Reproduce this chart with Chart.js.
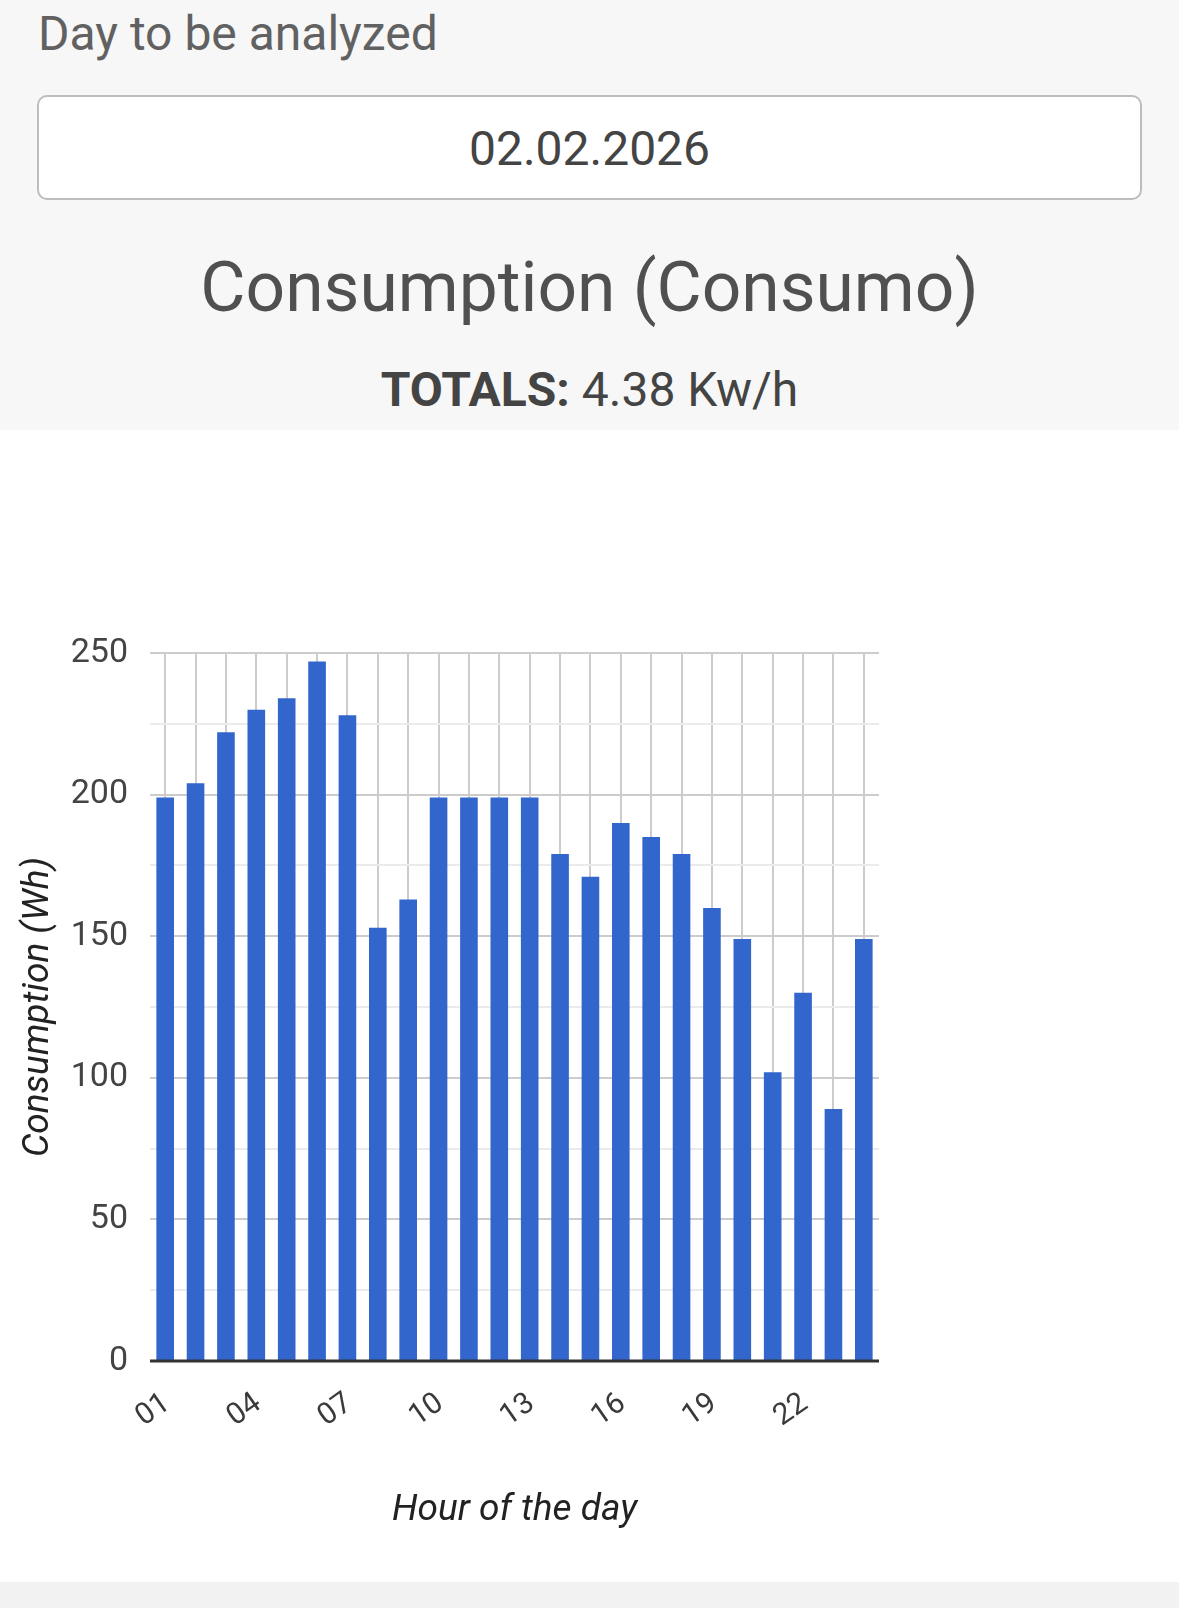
<!DOCTYPE html>
<html>
<head>
<meta charset="utf-8">
<script src="https://cdn.jsdelivr.net/npm/chart.js@4.4.1/dist/chart.umd.min.js"></script>
<style>
  html, body { margin:0; padding:0; background:#ffffff; }
  body { width:1179px; height:1608px; position:relative; overflow:hidden; font-family: Roboto, "Noto Sans", sans-serif; }
  #header { position:absolute; left:0; top:0; width:1179px; height:430px; background:#f7f7f7; }
  .line { position:absolute; left:0; width:1179px; line-height:1; white-space:nowrap; }
  #dayLabel { left:38px; width:auto; top:10px; font-size:48px; color:#616161; }
  #dateBox { position:absolute; left:37px; top:95px; width:1101px; height:101px; background:#ffffff;
             border:2px solid #bdbdbd; border-radius:10px; }
  #dateText { top:125px; font-size:48px; color:#444444; text-align:center; }
  #title { top:253px; font-size:69.5px; color:#505050; text-align:center; }
  #totals { top:366px; font-size:48px; color:#444444; text-align:center; }
  #totals b { font-weight:700; }
  #chartBox { position:absolute; left:0; top:430px; width:1179px; height:1150px; }
  #footer { position:absolute; left:0; top:1582px; width:1179px; height:26px; background:#f2f2f2; }
</style>
</head>
<body>
<div id="header"></div>
<div class="line" id="dayLabel">Day to be analyzed</div>
<div id="dateBox"></div>
<div class="line" id="dateText">02.02.2026</div>
<div class="line" id="title">Consumption (Consumo)</div>
<div class="line" id="totals"><b>TOTALS:</b> 4.38 Kw/h</div>
<div id="chartBox"><canvas id="chart"></canvas></div>
<div id="footer"></div>
<script>
const hours = ['01','02','03','04','05','06','07','08','09','10','11','12',
               '13','14','15','16','17','18','19','20','21','22','23','24'];
const consumptionWh = [199, 204, 222, 230, 234, 247, 228, 153, 163, 199, 199, 199,
                       199, 179, 171, 190, 185, 179, 160, 149, 102, 130, 89, 149];
const yTickValues = [0, 50, 100, 150, 200, 250];
const xTitle = 'Hour of the day';
const yTitle = 'Consumption (Wh)';

Chart.defaults.font.family = 'Roboto';

const baselinePlugin = {
  id: 'baseline',
  afterDatasetsDraw(chart) {
    const {ctx, chartArea, scales} = chart;
    const py = scales.y.getPixelForValue(0);
    ctx.save();
    ctx.strokeStyle = '#333333';
    ctx.lineWidth = 3;
    ctx.beginPath();
    ctx.moveTo(chartArea.left, py);
    ctx.lineTo(chartArea.right, py);
    ctx.stroke();
    ctx.restore();
  }
};

new Chart(document.getElementById('chart'), {
  type: 'bar',
  data: {
    labels: hours,
    datasets: [{
      data: consumptionWh,
      backgroundColor: '#3366cc',
      borderWidth: 0,
      barPercentage: 0.58,
      categoryPercentage: 1.0
    }]
  },
  plugins: [baselinePlugin],
  options: {
    responsive: true,
    maintainAspectRatio: false,
    animation: false,
    layout: { padding: { top: 223, right: 300, bottom: 47, left: 0 } },
    plugins: { legend: { display: false }, tooltip: { enabled: false } },
    scales: {
      x: {
        offset: true,
        grid: { offset: false, color: '#cccccc', lineWidth: 2, drawTicks: false },
        border: { display: false },
        ticks: {
          autoSkip: false,
          minRotation: 35,
          maxRotation: 35,
          padding: 25,
          labelOffset: 2,
          color: '#3a3a3a',
          font: { size: 30 },
          callback: function(v, i) { return i % 3 === 0 ? hours[i] : ''; }
        },
        title: {
          display: true,
          text: xTitle,
          color: '#222222',
          font: { size: 37, style: 'italic' },
          padding: { top: 0, bottom: 0 }
        },
        afterFit: function(scale) { scale.height = 172; }
      },
      y: {
        min: 0,
        max: 250,
        grid: {
          drawTicks: false,
          lineWidth: 2,
          color: function(c) {
            const v = c.tick ? c.tick.value : 1;
            if (v === 0) return 'rgba(0,0,0,0)';
            return yTickValues.includes(v) ? '#cccccc' : '#ebebeb';
          }
        },
        border: { display: false },
        ticks: {
          stepSize: 25,
          padding: 22,
          color: '#444444',
          font: { size: 34 },
          callback: function(v) { return yTickValues.includes(v) ? String(v) : ''; }
        },
        title: {
          display: true,
          text: yTitle,
          color: '#222222',
          font: { size: 37, style: 'italic' },
          padding: { top: 17, bottom: 0 }
        },
        afterFit: function(scale) { scale.width = 150; }
      }
    }
  }
});
</script>
</body>
</html>
